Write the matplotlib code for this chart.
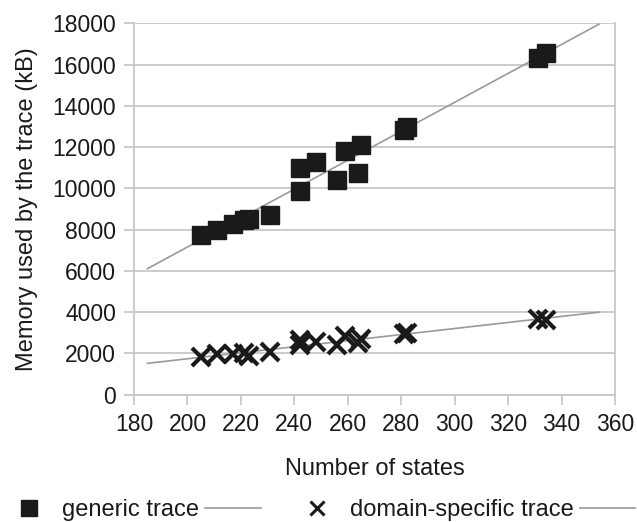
import numpy as np
import matplotlib
matplotlib.use('Agg')
import matplotlib.pyplot as plt
from matplotlib.lines import Line2D

plt.rcParams['font.family'] = ['Liberation Sans', 'DejaVu Sans']

# values
states = [205, 211, 217, 221, 223, 231, 242, 242, 248, 256, 259, 264, 265, 281, 282, 331, 334]
generic_kb = [7750, 8000, 8250, 8450, 8500, 8720, 9870, 10990, 11280, 10420, 11810, 10740,
              12120, 12850, 12950, 16300, 16570]
domain_kb = [1810, 1940, 1975, 2005, 1890, 2050, 2380, 2620, 2540, 2380, 2815, 2490,
             2700, 2950, 2990, 3670, 3620]
trend_range = [185, 354]
x_ticks = list(range(180, 361, 20))
y_ticks = list(range(0, 18001, 2000))

ink = '#1a1a1a'
grey = '#9a9a9a'
grid = '#c8c8c8'
fs = 16.5

fig = plt.figure(figsize=(6.37, 5.22), dpi=100)
ax = fig.add_axes([134 / 637, 1 - 394.5 / 522, (615 - 134) / 637, (394.5 - 23.3) / 522])

ax.set_xlim(180, 360)
ax.set_ylim(0, 18000)
ax.set_xticks(x_ticks)
ax.set_yticks(y_ticks)
ax.yaxis.grid(True, color=grid, linewidth=1.3)
ax.set_axisbelow(True)
for side in ['left', 'bottom', 'right']:
    ax.spines[side].set_color(grid)
    ax.spines[side].set_linewidth(1.3)
ax.spines['top'].set_visible(False)
ax.tick_params(axis='both', colors=grid, width=1.3, length=7, labelsize=fs,
               labelcolor=ink, pad=6)

xs = np.array(states)
tx = np.array(trend_range)
g_fit = np.polyfit(xs, generic_kb, 1)
d_fit = np.polyfit(xs, domain_kb, 1)
ax.plot(tx, np.polyval(g_fit, tx), color=grey, lw=1.2, zorder=2)
ax.plot(tx, np.polyval(d_fit, tx), color=grey, lw=1.2, zorder=2)

ax.plot(states, generic_kb, 's', color=ink, markersize=13.5, zorder=3)
ax.plot(states, domain_kb, 'x', color=ink, markersize=13.5, markeredgewidth=3, zorder=3)

ax.set_xlabel('Number of states', fontsize=17, color=ink, labelpad=16)
ax.set_ylabel('Memory used by the trace (kB)', fontsize=17, color=ink, labelpad=10)

# legend: marker, text, then trend line
sq = Line2D([], [], ls='none', marker='s', color=ink, markersize=11)
cx = Line2D([], [], ls='none', marker='x', color=ink, markersize=10, markeredgewidth=2.2)
ln = Line2D([], [], color=grey, lw=1.2)
leg_kw = dict(loc='center left', ncol=2, markerfirst=False, frameon=False, fontsize=17,
              handlelength=2.35, handletextpad=0.25, columnspacing=0.25,
              borderpad=0, borderaxespad=0, labelcolor=ink)
fig.legend([sq, ln], ['', 'generic trace'], bbox_to_anchor=(-5 / 637, 12 / 522), **leg_kw)
fig.legend([cx, ln], ['', 'domain-specific trace'], bbox_to_anchor=(283 / 637, 12 / 522), **leg_kw)

fig.savefig('out.png', dpi=100)
